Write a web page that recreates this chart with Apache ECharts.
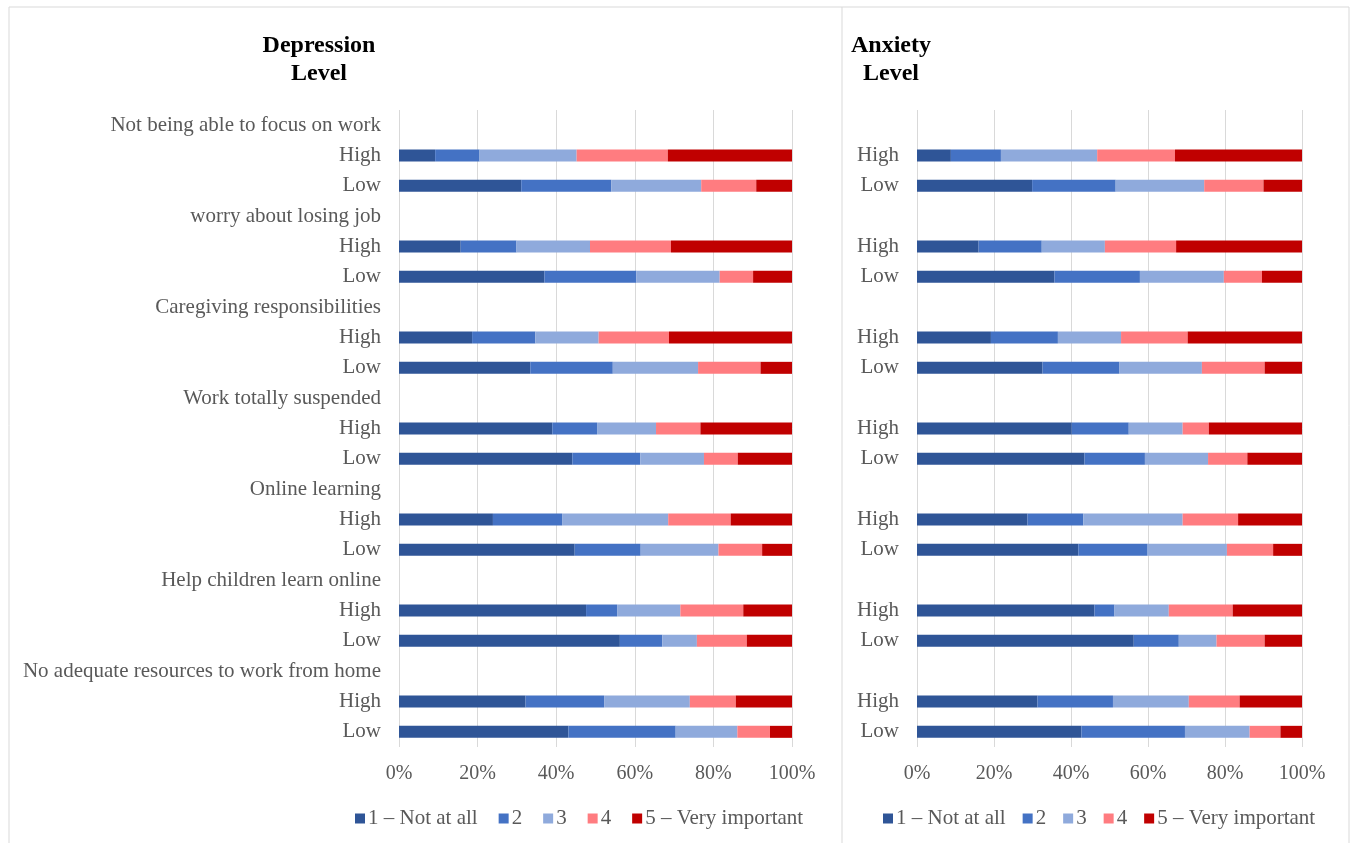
<!DOCTYPE html>
<html>
<head>
<meta charset="utf-8">
<script src="https://cdn.jsdelivr.net/npm/echarts@6/dist/echarts.min.js"></script>
<style>
  html, body { margin: 0; padding: 0; background: #fff; }
  #chart { width: 1354px; height: 843px; }
</style>
</head>
<body>
<div id="chart"></div>
<script>
  var leftLabels = ['Not being able to focus on work', 'High', 'Low',
    'worry about losing job', 'High', 'Low',
    'Caregiving responsibilities', 'High', 'Low',
    'Work totally suspended', 'High', 'Low',
    'Online learning', 'High', 'Low',
    'Help children learn online', 'High', 'Low',
    'No adequate resources to work from home', 'High', 'Low'];
  var rightLabels = ['', 'High', 'Low', '', 'High', 'Low', '', 'High', 'Low', '', 'High', 'Low',
    '', 'High', 'Low', '', 'High', 'Low', '', 'High', 'Low'];
  var levelNames = ['1 – Not at all', '2', '3', '4', '5 – Very important'];
  var levelColors = ['#2f5597', '#4472c4', '#8faadc', '#ff7c80', '#c00000'];
  var xTicks = [0, 20, 40, 60, 80, 100];

  // depression level, % per answer (header rows are empty)
  var dep1 = ['-', 9.2, 31.1, '-', 15.7, 37.0, '-', 18.6, 33.4, '-', 39.0, 44.1, '-', 23.9, 44.7, '-', 47.6, 56.2, '-', 32.2, 43.1];
  var dep2 = ['-', 11.3, 22.9, '-', 14.2, 23.4, '-', 16.1, 21.0, '-', 11.4, 17.3, '-', 17.6, 16.8, '-', 7.9, 10.8, '-', 20.0, 27.3];
  var dep3 = ['-', 24.7, 22.9, '-', 18.7, 21.2, '-', 16.1, 21.7, '-', 15.0, 16.2, '-', 27.0, 19.8, '-', 16.1, 8.8, '-', 21.8, 15.7];
  var dep4 = ['-', 23.2, 14.0, '-', 20.6, 8.5, '-', 17.9, 15.9, '-', 11.3, 8.6, '-', 15.9, 11.1, '-', 16.0, 12.7, '-', 11.7, 8.3];
  var dep5 = ['-', 31.6, 9.1, '-', 30.8, 9.9, '-', 31.3, 8.0, '-', 23.3, 13.8, '-', 15.6, 7.6, '-', 12.4, 11.5, '-', 14.3, 5.6];

  // anxiety level
  var anx1 = ['-', 8.8, 29.9, '-', 16.0, 35.7, '-', 19.2, 32.6, '-', 40.2, 43.5, '-', 28.7, 41.9, '-', 46.1, 56.3, '-', 31.3, 42.7];
  var anx2 = ['-', 13.0, 21.7, '-', 16.4, 22.2, '-', 17.4, 20.0, '-', 14.8, 15.7, '-', 14.5, 18.0, '-', 5.2, 11.7, '-', 19.6, 26.9];
  var anx3 = ['-', 25.0, 23.0, '-', 16.4, 21.8, '-', 16.4, 21.4, '-', 14.0, 16.4, '-', 25.8, 20.6, '-', 14.1, 9.8, '-', 19.7, 16.8];
  var anx4 = ['-', 20.2, 15.4, '-', 18.5, 9.9, '-', 17.3, 16.3, '-', 6.8, 10.2, '-', 14.4, 12.0, '-', 16.6, 12.5, '-', 13.2, 8.0];
  var anx5 = ['-', 33.0, 10.0, '-', 32.7, 10.4, '-', 29.7, 9.7, '-', 24.2, 14.2, '-', 16.6, 7.5, '-', 18.0, 9.7, '-', 16.2, 5.6];

  var depData = [dep1, dep2, dep3, dep4, dep5];
  var anxData = [anx1, anx2, anx3, anx4, anx5];

  var font = '"Liberation Serif", "Times New Roman", serif';
  var gray = '#595959';

  function xAxis(idx) {
    return {
      type: 'value', gridIndex: idx, min: 0, max: 100, interval: 20,
      axisLine: { show: false }, axisTick: { show: false },
      splitLine: { lineStyle: { color: '#d9d9d9', width: 1 } },
      axisLabel: {
        formatter: function (v) { return xTicks.indexOf(v) >= 0 ? v + '%' : ''; },
        color: gray, fontFamily: font, fontSize: 20, margin: 17
      }
    };
  }

  function yAxis(idx, labels) {
    return {
      type: 'category', gridIndex: idx, data: labels, inverse: true,
      axisLine: { show: false }, axisTick: { show: false },
      axisLabel: { color: gray, fontFamily: font, fontSize: 21, margin: 18, interval: 0 }
    };
  }

  var series = [];
  [depData, anxData].forEach(function (set, g) {
    set.forEach(function (vals, i) {
      series.push({
        name: levelNames[i], type: 'bar', stack: 'p' + g,
        xAxisIndex: g, yAxisIndex: g, barWidth: 12,
        itemStyle: { color: levelColors[i] },
        data: vals
      });
    });
  });

  function legend(left, gap) {
    return {
      left: left, top: 803, data: levelNames, icon: 'rect',
      itemWidth: 10, itemHeight: 10, itemGap: gap, selectedMode: false,
      textStyle: { color: gray, fontFamily: font, fontSize: 21, padding: [0, 0, 0, -2] }
    };
  }

  var titleStyle = { fontFamily: font, fontSize: 24, fontWeight: 'bold', color: '#000', lineHeight: 28, align: 'center' };

  var chart = echarts.init(document.getElementById('chart'), null, { renderer: 'canvas' });
  chart.setOption({
    animation: false,
    backgroundColor: '#fff',
    color: levelColors,
    title: [
      { text: 'Depression\nLevel', left: 314, top: 27, textAlign: 'center', textStyle: titleStyle },
      { text: 'Anxiety\nLevel', left: 886, top: 27, textAlign: 'center', textStyle: titleStyle }
    ],
    legend: [legend(350, 21), legend(878, 17)],
    grid: [
      { left: 399, right: 562, top: 110, bottom: 96 },
      { left: 917, right: 52, top: 110, bottom: 96 }
    ],
    xAxis: [xAxis(0), xAxis(1)],
    yAxis: [yAxis(0, leftLabels), yAxis(1, rightLabels)],
    series: series,
    graphic: [
      { type: 'rect', shape: { x: 9, y: 7, width: 1340, height: 850 },
        style: { fill: 'none', stroke: '#d9d9d9', lineWidth: 1 }, silent: true },
      { type: 'line', shape: { x1: 842, y1: 7, x2: 842, y2: 843 },
        style: { stroke: '#d9d9d9', lineWidth: 1 }, silent: true }
    ]
  });
</script>
</body>
</html>
